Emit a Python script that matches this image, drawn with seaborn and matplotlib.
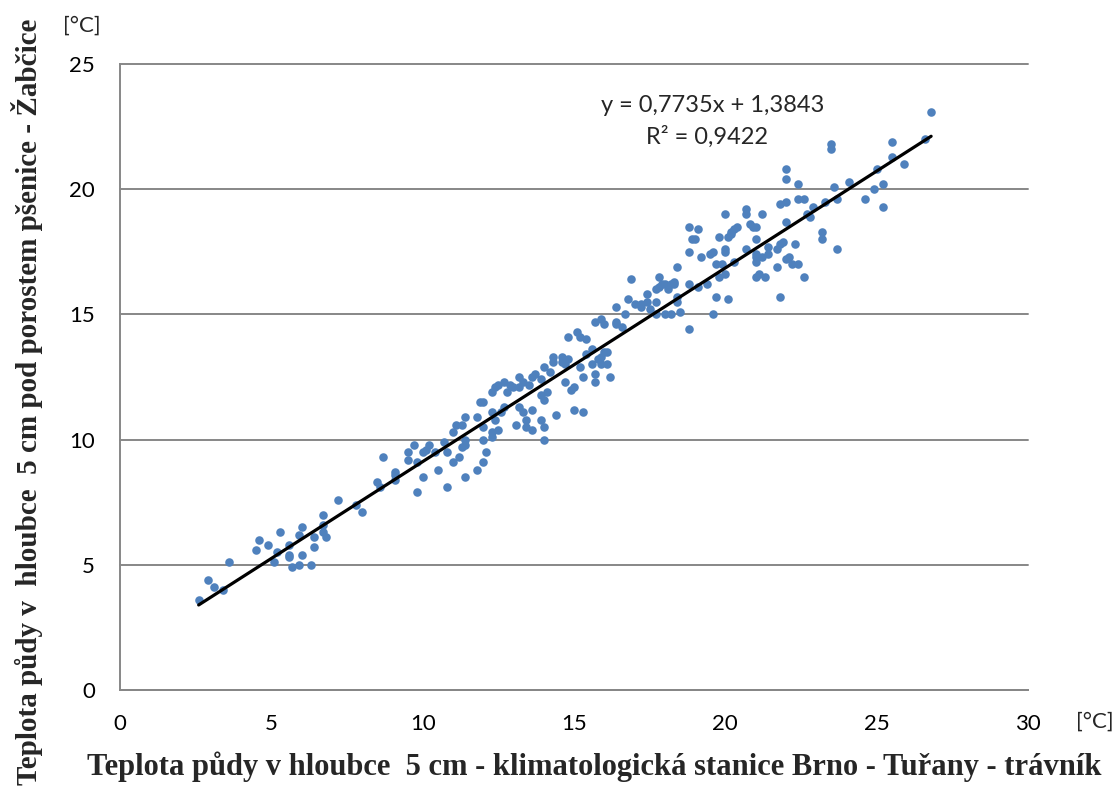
"""
Scatter of soil temperature at 5 cm depth: Brno-Tuřany grass vs. Žabčice wheat,
with the linear trend line as shown in the original Excel chart.
"""

import numpy as np
import pandas as pd
import seaborn as sns
import matplotlib.pyplot as plt

# --- Data ---
temp_turany = [
    2.6, 2.9, 3.1, 3.4, 3.6, 4.5, 4.6, 4.9, 5.1, 5.2, 5.3, 5.6, 5.6, 5.6, 5.7, 5.9,
    5.9, 6.0, 6.0, 6.3, 6.4, 6.4, 6.7, 6.7, 6.7, 6.8, 7.2, 7.8, 8.0, 8.5, 8.6, 8.7,
    9.1, 9.1, 9.1,
    9.5, 9.5, 9.7, 9.8, 9.8, 10.0, 10.0, 10.1, 10.2, 10.4, 10.5, 10.7, 10.8, 10.8,
    11.0, 11.0, 11.1, 11.2, 11.3, 11.3, 11.4, 11.4, 11.4, 11.4, 11.8, 11.8, 11.9,
    12.0, 12.0, 12.0, 12.0, 12.1, 12.3, 12.3, 12.3, 12.3, 12.4, 12.4, 12.5, 12.5,
    12.6, 12.7, 12.7, 12.8, 12.9, 13.0, 13.2, 13.1, 13.2, 13.2, 13.3, 13.3, 13.4,
    13.4, 13.5, 13.6, 13.6, 13.6, 13.7, 13.9, 13.9, 13.9, 14.0, 14.0, 14.0, 14.1,
    14.0, 14.2, 14.3, 14.3, 14.4, 14.6, 14.6, 14.7, 14.7, 14.8, 14.8, 14.9, 15.0,
    15.0, 15.1, 15.2, 15.4, 15.2, 15.3, 15.3, 15.4, 15.6, 15.6, 15.8, 15.9, 15.9,
    16.0, 15.7, 15.7, 16.1, 16.1, 16.2,
    15.7, 15.9, 16.0, 16.4, 16.4, 16.4, 16.6, 16.7, 16.8, 16.9, 17.0, 17.2, 17.2,
    17.4, 17.4, 17.5, 17.7, 17.7, 17.8, 17.8, 17.9, 18.0, 18.1, 18.2, 18.3, 18.3,
    17.7, 18.0, 18.2, 18.4, 18.4, 18.4, 18.5, 18.8, 18.8, 18.8, 18.9, 19.0, 19.1,
    19.1, 19.2, 19.4, 19.5, 19.6, 19.6, 19.7, 19.9, 19.7, 19.8, 20.0, 19.8, 20.0,
    20.0, 20.1, 20.1, 20.2, 20.3, 20.3, 20.7, 21.0, 21.0, 21.0, 21.2, 21.4, 21.4,
    21.0, 21.0, 21.1, 21.3, 21.7, 21.7, 21.8, 21.9, 21.8, 22.0, 22.1, 22.2, 22.4,
    22.3, 22.6,
    26.8, 26.6, 25.5, 25.5, 25.9, 23.5, 23.5, 22.0, 22.0, 22.4, 24.1, 25.0, 23.6,
    24.9, 25.2, 25.2, 24.6, 23.7, 23.3, 22.9, 22.7, 22.8, 22.4, 22.6, 22.0, 21.8,
    22.0, 21.2, 23.2, 23.2, 23.7,
    18.8, 20.0, 20.7, 20.7, 20.4, 20.8, 20.9, 21.0, 20.2,
]
temp_zabcice = [
    3.6, 4.4, 4.1, 4.0, 5.1, 5.6, 6.0, 5.8, 5.1, 5.5, 6.3, 5.8, 5.4, 5.3, 4.9, 5.0,
    6.2, 6.5, 5.4, 5.0, 5.7, 6.1, 7.0, 6.6, 6.3, 6.1, 7.6, 7.4, 7.1, 8.3, 8.1, 9.3,
    8.7, 8.4, 8.6,
    9.5, 9.2, 9.8, 9.1, 7.9, 8.5, 9.5, 9.6, 9.8, 9.5, 8.8, 9.9, 9.5, 8.1,
    10.3, 9.1, 10.6, 9.3, 10.6, 9.7, 10.9, 10.0, 9.8, 8.5, 10.9, 8.8, 11.5,
    11.5, 10.5, 10.0, 9.1, 9.5, 10.3, 10.1, 11.9, 11.1, 10.8, 12.1, 10.4, 12.2,
    11.1, 11.3, 12.3, 11.9, 12.2, 12.1, 12.1, 10.6, 12.5, 11.3, 11.1, 12.3, 10.5,
    10.8, 12.2, 11.2, 10.4, 12.5, 12.6, 10.8, 11.8, 12.4, 10.5, 10.0, 11.6, 11.9,
    12.9, 12.7, 13.3, 13.1, 11.0, 13.3, 13.1, 13.0, 12.3, 14.1, 13.2, 12.0, 12.1,
    11.2, 14.3, 14.1, 14.0, 12.9, 12.5, 11.1, 13.4, 13.0, 13.6, 13.2, 13.3, 13.0,
    13.5, 12.6, 12.3, 13.0, 13.5, 12.5,
    14.7, 14.8, 14.6, 15.3, 14.6, 14.7, 14.5, 15.0, 15.6, 16.4, 15.4, 15.4, 15.3,
    15.8, 15.5, 15.2, 15.5, 16.0, 16.5, 16.1, 16.2, 16.2, 16.0, 16.2, 16.3, 16.2,
    15.0, 15.0, 15.0, 16.9, 15.7, 15.5, 15.1, 17.5, 16.2, 14.4, 18.0, 18.0, 18.4,
    16.1, 17.3, 16.2, 17.4, 17.5, 15.0, 17.0, 17.0, 15.7, 16.5, 16.6, 18.1, 17.6,
    17.5, 15.6, 18.1, 18.2, 18.4, 17.1, 17.6, 17.4, 17.1, 17.3, 17.3, 17.4, 17.7,
    18.0, 16.5, 16.6, 16.5, 16.9, 17.6, 17.8, 17.9, 15.7, 17.2, 17.3, 17.0, 17.0,
    17.8, 16.5,
    23.1, 22.0, 21.9, 21.3, 21.0, 21.8, 21.6, 20.8, 20.4, 20.2, 20.3, 20.8, 20.1,
    20.0, 20.2, 19.3, 19.6, 19.6, 19.5, 19.3, 19.0, 18.9, 19.6, 19.6, 19.5, 19.4,
    18.7, 19.0, 18.3, 18.0, 17.6,
    18.5, 19.0, 19.2, 19.0, 18.5, 18.6, 18.5, 18.5, 18.3,
]

# trend line as reported in the chart
slope = 0.7735
intercept = 1.3843
r_squared = 0.9422

df = pd.DataFrame({"turany": temp_turany, "zabcice": temp_zabcice})

# --- Style ---
sns.set_style("white")
plt.rcParams["font.family"] = ["Lato", "DejaVu Sans"]
grid_col = "#878787"
point_col = "#4F81BD"

fig = plt.figure(figsize=(11.17, 7.94), dpi=100)
ax = fig.add_axes((0.1074, 0.1310, 0.8129, 0.7884))

sns.scatterplot(data=df, x="turany", y="zabcice", ax=ax,
                color=point_col, s=38, linewidth=0, zorder=3)

# linear trend over the range of the data
x_line = np.array([df["turany"].min(), df["turany"].max()])
ax.plot(x_line, slope * x_line + intercept, color="black", lw=2.3, zorder=4)

ax.set_xlim(0, 30)
ax.set_ylim(0, 25)
ax.set_xticks(range(0, 31, 5))
ax.set_yticks(range(0, 26, 5))
ax.set_xlabel("")
ax.set_ylabel("")

# Excel look: horizontal gridlines, grey left/bottom axis, outward ticks
ax.yaxis.grid(True, color=grid_col, lw=1.4)
ax.xaxis.grid(False)
for gl in ax.yaxis.get_gridlines():
    gl.set_clip_on(False)
for side in ["top", "right"]:
    ax.spines[side].set_visible(False)
for side in ["left", "bottom"]:
    ax.spines[side].set_color(grid_col)
    ax.spines[side].set_linewidth(1.4)
ax.tick_params(axis="both", direction="out", length=6, width=1.4,
               color=grid_col, labelsize=16, labelcolor="black")
ax.tick_params(axis="x", pad=11)
ax.tick_params(axis="y", pad=12)

# trendline equation (decimal comma as in original)
eq = f"y = {slope:.4f}x + {intercept:.4f}".replace(".", ",")
r2 = f"R² = {r_squared:.4f}".replace(".", ",")
ax.text(0.653, 0.933, eq, transform=ax.transAxes, ha="center", va="center", fontsize=17)
ax.text(0.646, 0.883, r2, transform=ax.transAxes, ha="center", va="center", fontsize=17)

# units
fig.text(82 / 1117, 1 - 26 / 794, "[°C]", ha="center", va="center", fontsize=16)
fig.text(1095 / 1117, 1 - 722 / 794, "[°C]", ha="center", va="center", fontsize=16)

# axis titles
fig.text(594 / 1117, 1 - 775 / 794,
         "Teplota půdy v hloubce  5 cm - klimatologická stanice Brno - Tuřany - trávník",
         ha="center", va="baseline", fontsize=22, fontweight="bold",
         family="Liberation Serif")
fig.text(27 / 1117, 1 - 402 / 794,
         "Teplota půdy v  hloubce  5 cm pod porostem pšenice - Žabčice",
         ha="center", va="center", rotation=90, fontsize=21, fontweight="bold",
         family="Liberation Serif")

fig.savefig("out.png", dpi=100)
